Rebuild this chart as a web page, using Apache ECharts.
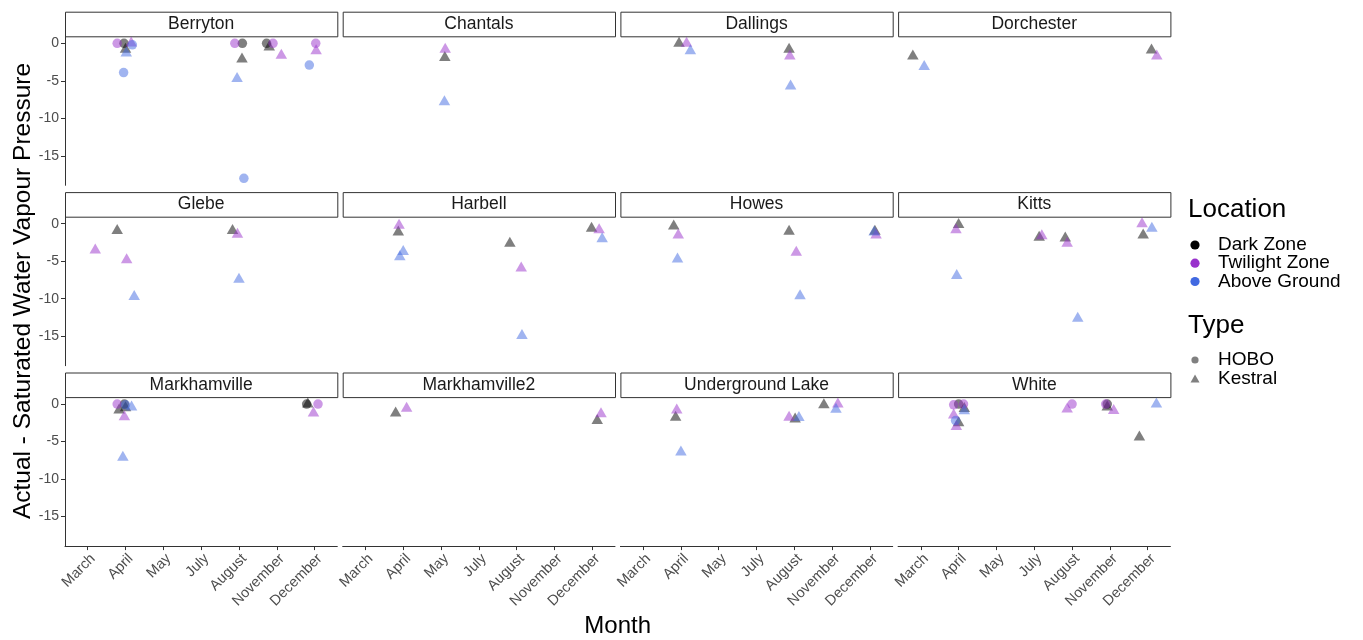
<!DOCTYPE html>
<html><head><meta charset="utf-8">
<script src="https://cdn.jsdelivr.net/npm/echarts@6/dist/echarts.min.js"></script>
<style>html,body{margin:0;padding:0;background:#fff}#c{width:1363px;height:640px}</style>
</head><body><div id="c"></div>
<script>
// ---------- data ----------
const months = ['March','April','May','July','August','November','December'];
const sites = ['Berryton','Chantals','Dallings','Dorchester','Glebe','Harbell','Howes','Kitts','Markhamville','Markhamville2','Underground Lake','White'];
const locations = ['Dark Zone','Twilight Zone','Above Ground'];
const locationColors = ['#000000','#9932CC','#4169E1'];
const types = ['HOBO','Kestral'];
const yTicks = [0,-5,-10,-15];

// [month, horizontal jitter (category units), value, location, type]
const berryton = [
  ['April',-0.22,0,'Twilight Zone','HOBO'],
  ['April',-0.04,0,'Dark Zone','HOBO'],
  ['April',0.18,-0.2,'Above Ground','HOBO'],
  ['April',0.15,0.03,'Twilight Zone','Kestral'],
  ['April',0.0,-0.8,'Dark Zone','Kestral'],
  ['April',0.02,-1.3,'Above Ground','Kestral'],
  ['April',-0.05,-3.9,'Above Ground','HOBO'],
  ['August',-0.11,0,'Twilight Zone','HOBO'],
  ['August',0.09,0,'Dark Zone','HOBO'],
  ['August',0.08,-2.1,'Dark Zone','Kestral'],
  ['August',-0.05,-4.7,'Above Ground','Kestral'],
  ['August',0.13,-18.0,'Above Ground','HOBO'],
  ['November',-0.27,0,'Dark Zone','HOBO'],
  ['November',-0.1,0,'Twilight Zone','HOBO'],
  ['November',-0.2,-0.5,'Dark Zone','Kestral'],
  ['November',0.12,-1.6,'Twilight Zone','Kestral'],
  ['December',0.03,0,'Twilight Zone','HOBO'],
  ['December',0.04,-1.0,'Twilight Zone','Kestral'],
  ['December',-0.14,-2.9,'Above Ground','HOBO']
];
const chantals = [
  ['May',0.11,-0.8,'Twilight Zone','Kestral'],
  ['May',0.1,-1.9,'Dark Zone','Kestral'],
  ['May',0.09,-7.8,'Above Ground','Kestral']
];
const dallings = [
  ['April',-0.05,0,'Dark Zone','Kestral'],
  ['April',0.15,0,'Twilight Zone','Kestral'],
  ['April',0.25,-1.0,'Above Ground','Kestral'],
  ['August',-0.14,-0.8,'Dark Zone','Kestral'],
  ['August',-0.12,-1.7,'Twilight Zone','Kestral'],
  ['August',-0.1,-5.7,'Above Ground','Kestral']
];
const dorchester = [
  ['March',-0.21,-1.7,'Dark Zone','Kestral'],
  ['March',0.09,-3.1,'Above Ground','Kestral'],
  ['December',0.1,-0.9,'Dark Zone','Kestral'],
  ['December',0.24,-1.7,'Twilight Zone','Kestral']
];
const glebe = [
  ['April',-0.22,-0.9,'Dark Zone','Kestral'],
  ['March',0.2,-3.5,'Twilight Zone','Kestral'],
  ['April',0.03,-4.8,'Twilight Zone','Kestral'],
  ['April',0.23,-9.7,'Above Ground','Kestral'],
  ['August',-0.17,-0.9,'Dark Zone','Kestral'],
  ['August',-0.04,-1.4,'Twilight Zone','Kestral'],
  ['August',0.0,-7.4,'Above Ground','Kestral']
];
const harbell = [
  ['April',-0.11,-0.2,'Twilight Zone','Kestral'],
  ['April',-0.13,-1.1,'Dark Zone','Kestral'],
  ['April',0.0,-3.7,'Above Ground','Kestral'],
  ['April',-0.09,-4.4,'Above Ground','Kestral'],
  ['August',-0.18,-2.6,'Dark Zone','Kestral'],
  ['August',0.12,-5.9,'Twilight Zone','Kestral'],
  ['August',0.14,-14.9,'Above Ground','Kestral'],
  ['December',-0.02,-0.6,'Dark Zone','Kestral'],
  ['December',0.18,-0.8,'Twilight Zone','Kestral'],
  ['December',0.26,-2.0,'Above Ground','Kestral']
];
const howes = [
  ['April',-0.19,-0.3,'Dark Zone','Kestral'],
  ['April',-0.07,-1.5,'Twilight Zone','Kestral'],
  ['April',-0.09,-4.7,'Above Ground','Kestral'],
  ['August',-0.14,-1.0,'Dark Zone','Kestral'],
  ['August',0.05,-3.8,'Twilight Zone','Kestral'],
  ['August',0.15,-9.6,'Above Ground','Kestral'],
  ['December',0.11,-1.1,'Above Ground','Kestral'],
  ['December',0.13,-1.0,'Dark Zone','Kestral'],
  ['December',0.16,-1.5,'Twilight Zone','Kestral']
];
const kitts = [
  ['April',0.0,-0.1,'Dark Zone','Kestral'],
  ['April',-0.07,-0.8,'Twilight Zone','Kestral'],
  ['April',-0.05,-6.9,'Above Ground','Kestral'],
  ['July',0.13,-1.8,'Dark Zone','Kestral'],
  ['July',0.2,-1.6,'Twilight Zone','Kestral'],
  ['August',-0.18,-1.9,'Dark Zone','Kestral'],
  ['August',-0.13,-2.6,'Twilight Zone','Kestral'],
  ['August',0.15,-12.6,'Above Ground','Kestral'],
  ['December',-0.15,0,'Twilight Zone','Kestral'],
  ['December',0.11,-0.6,'Above Ground','Kestral'],
  ['December',-0.12,-1.5,'Dark Zone','Kestral']
];
const markhamville = [
  ['April',-0.22,0,'Twilight Zone','HOBO'],
  ['April',-0.03,0,'Dark Zone','HOBO'],
  ['April',0.0,-0.1,'Above Ground','HOBO'],
  ['April',0.16,-0.4,'Above Ground','Kestral'],
  ['April',-0.17,-0.8,'Dark Zone','Kestral'],
  ['April',0.0,-0.5,'Dark Zone','Kestral'],
  ['April',-0.03,-1.7,'Twilight Zone','Kestral'],
  ['April',-0.07,-7.1,'Above Ground','Kestral'],
  ['December',-0.21,0,'Dark Zone','HOBO'],
  ['December',0.09,0,'Twilight Zone','HOBO'],
  ['December',-0.18,0,'Dark Zone','Kestral'],
  ['December',-0.03,-1.2,'Twilight Zone','Kestral']
];
const markhamville2 = [
  ['April',-0.2,-1.2,'Dark Zone','Kestral'],
  ['April',0.09,-0.55,'Twilight Zone','Kestral'],
  ['December',0.23,-1.3,'Twilight Zone','Kestral'],
  ['December',0.13,-2.2,'Dark Zone','Kestral']
];
const undergroundLake = [
  ['April',-0.11,-0.8,'Twilight Zone','Kestral'],
  ['April',-0.14,-1.75,'Dark Zone','Kestral'],
  ['April',0.0,-6.4,'Above Ground','Kestral'],
  ['August',-0.14,-1.75,'Twilight Zone','Kestral'],
  ['August',0.02,-2.0,'Dark Zone','Kestral'],
  ['August',0.12,-1.8,'Above Ground','Kestral'],
  ['November',-0.22,-0.1,'Dark Zone','Kestral'],
  ['November',0.15,0,'Twilight Zone','Kestral'],
  ['November',0.1,-0.7,'Above Ground','Kestral']
];
const white = [
  ['April',-0.13,-0.1,'Twilight Zone','HOBO'],
  ['April',0.0,0,'Dark Zone','HOBO'],
  ['April',0.13,0,'Twilight Zone','HOBO'],
  ['April',0.15,-0.6,'Dark Zone','Kestral'],
  ['April',0.15,-0.9,'Above Ground','Kestral'],
  ['April',-0.13,-1.45,'Twilight Zone','Kestral'],
  ['April',-0.08,-2.2,'Above Ground','HOBO'],
  ['April',0.0,-2.5,'Dark Zone','Kestral'],
  ['April',-0.06,-3.0,'Twilight Zone','Kestral'],
  ['August',0.0,0,'Twilight Zone','HOBO'],
  ['August',-0.13,-0.65,'Twilight Zone','Kestral'],
  ['November',-0.11,0,'Twilight Zone','HOBO'],
  ['November',-0.07,0,'Dark Zone','HOBO'],
  ['November',-0.07,-0.4,'Dark Zone','Kestral'],
  ['November',0.1,-0.85,'Twilight Zone','Kestral'],
  ['December',0.23,0,'Above Ground','Kestral'],
  ['December',-0.22,-4.4,'Dark Zone','Kestral']
];
const siteData = [berryton,chantals,dallings,dorchester,glebe,harbell,howes,kitts,markhamville,markhamville2,undergroundLake,white];

// ---------- layout ----------
const FONT = '"Liberation Sans", Arial, Helvetica, sans-serif';
const colLeft = [65, 342.7, 620.4, 898.1], panelW = 272.3;
const rowTop = [36.3, 216.7, 397.1], panelH = 149, stripH = 24.6;
const Y_MIN = -18.93, Y_MAX = 0.93;
const monthPos = months.map((m,i)=>i+1);

const grids = [], xAxes = [], yAxes = [], series = [], graphics = [];
sites.forEach((site, i) => {
  const r = Math.floor(i/4), c = i%4;
  const left = colLeft[c], top = rowTop[r];
  grids.push({left: left, top: top, width: panelW, height: panelH, containLabel: false});
  const bottomRow = r === 2, leftCol = c === 0;
  xAxes.push({
    type: 'value', gridIndex: i, min: 0.4, max: 7.6,
    splitLine: {show: false},
    axisLine: {show: bottomRow, onZero: false, lineStyle: {color: '#333', width: 1}},
    axisTick: {show: bottomRow, length: 4, lineStyle: {color: '#333'}, customValues: monthPos},
    axisLabel: {show: bottomRow, customValues: monthPos, rotate: 45, margin: 5,
      align: 'right', verticalAlign: 'top',
      fontFamily: FONT, fontSize: 14.5, color: '#4d4d4d',
      formatter: v => months[Math.round(v)-1] || ''}
  });
  yAxes.push({
    type: 'value', gridIndex: i, min: Y_MIN, max: Y_MAX,
    splitLine: {show: false},
    axisLine: {show: leftCol, lineStyle: {color: '#333', width: 1}},
    axisTick: {show: leftCol, length: 4, lineStyle: {color: '#333'}, customValues: yTicks},
    axisLabel: {show: leftCol, customValues: yTicks, margin: 6,
      fontFamily: FONT, fontSize: 14, color: '#4d4d4d'}
  });
  locations.forEach((loc, li) => {
    const pts = siteData[i].filter(d => d[3] === loc).map(d => {
      const isHobo = d[4] === types[0];
      return {
        value: [months.indexOf(d[0]) + 1 + d[1], d[2]],
        symbol: isHobo ? 'circle' : 'triangle',
        symbolSize: isHobo ? 9.5 : [11.5, 10],
        symbolOffset: isHobo ? [0,0] : [0,-1.5]
      };
    });
    series.push({
      type: 'scatter', name: loc, xAxisIndex: i, yAxisIndex: i,
      data: pts, itemStyle: {color: locationColors[li], opacity: 0.5},
      emphasis: {disabled: true}, silent: true
    });
  });
  // strip
  graphics.push({type: 'rect', left: left, top: top - stripH,
    shape: {x: 0, y: 0, width: panelW, height: stripH},
    style: {fill: '#fff', stroke: '#333', lineWidth: 1}});
  graphics.push({type: 'text', x: left + panelW/2, y: top - stripH/2,
    style: {text: site, font: '17.5px ' + FONT, fill: '#1a1a1a', align: 'center', verticalAlign: 'middle'}});
});

// axis titles
graphics.push({type: 'text', x: 23, y: 291, rotation: Math.PI/2,
  style: {text: 'Actual - Saturated Water Vapour Pressure', font: '24.5px ' + FONT, fill: '#000', align: 'center', verticalAlign: 'middle'}});
graphics.push({type: 'text', x: 617.7, y: 626,
  style: {text: 'Month', font: '24px ' + FONT, fill: '#000', align: 'center', verticalAlign: 'middle'}});

// legends
graphics.push({type: 'text', x: 1188, y: 210,
  style: {text: 'Location', font: '26px ' + FONT, fill: '#000', align: 'left', verticalAlign: 'middle'}});
const locY = [245, 263.2, 281.5];
locations.forEach((loc, li) => {
  graphics.push({type: 'circle', shape: {cx: 1195, cy: locY[li], r: 4.6}, style: {fill: locationColors[li]}});
  graphics.push({type: 'text', x: 1218, y: locY[li],
    style: {text: loc, font: '19px ' + FONT, fill: '#000', align: 'left', verticalAlign: 'middle'}});
});
graphics.push({type: 'text', x: 1188, y: 326,
  style: {text: 'Type', font: '26px ' + FONT, fill: '#000', align: 'left', verticalAlign: 'middle'}});
graphics.push({type: 'circle', shape: {cx: 1195, cy: 360, r: 3.6}, style: {fill: '#808080'}});
graphics.push({type: 'text', x: 1218, y: 360,
  style: {text: types[0], font: '19px ' + FONT, fill: '#000', align: 'left', verticalAlign: 'middle'}});
graphics.push({type: 'polygon', shape: {points: [[1190.5, 382.5], [1199.5, 382.5], [1195, 374.5]]}, style: {fill: '#808080'}});
graphics.push({type: 'text', x: 1218, y: 378.5,
  style: {text: types[1], font: '19px ' + FONT, fill: '#000', align: 'left', verticalAlign: 'middle'}});

const chart = echarts.init(document.getElementById('c'), null, {renderer: 'canvas'});
chart.setOption({
  animation: false,
  backgroundColor: '#ffffff',
  grid: grids, xAxis: xAxes, yAxis: yAxes, series: series,
  graphic: graphics
});
</script></body></html>
